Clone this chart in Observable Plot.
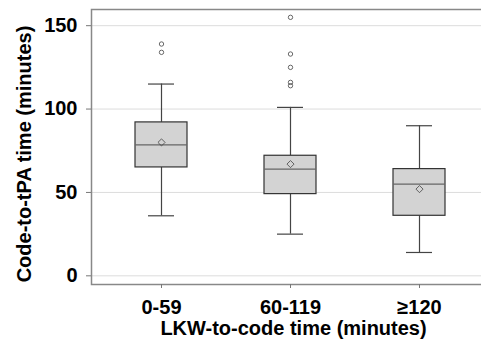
<!DOCTYPE html>
<html><head><meta charset="utf-8">
<script src="https://cdn.jsdelivr.net/npm/d3@7"></script>
<script src="https://cdn.jsdelivr.net/npm/@observablehq/plot@0.6"></script>
<style>body{margin:0;background:#fff}</style>
</head><body><div id="chart"></div>
<script>
const categories = ["0-59", "60-119", "≥120"];
const whiskerLow = [36, 25, 14];
const q1 = [65, 49, 36];
const median = [78.5, 64, 55];
const q3 = [92, 72, 64];
const whiskerHigh = [115, 101, 90];
const means = [80, 67, 52];
const outlierCats = ["0-59", "0-59", "60-119", "60-119", "60-119", "60-119", "60-119"];
const outlierValues = [139, 134, 155, 133, 125, 116, 114];
const yTicks = [0, 50, 100, 150];
const yDomain = [-5.2, 159.7];
const xTitle = "LKW-to-code time (minutes)";
const yTitle = "Code-to-tPA time (minutes)";

const boxes = categories.map((c, i) => ({cat: c, lo: whiskerLow[i], q1: q1[i], med: median[i], q3: q3[i], hi: whiskerHigh[i], mean: means[i]}));
const outliers = outlierCats.map((c, i) => ({cat: c, value: outlierValues[i]}));

const chart = Plot.plot({
  width: 481, height: 344,
  marginLeft: 91, marginRight: -8, marginTop: 9, marginBottom: 60,
  style: {fontFamily: "'Liberation Sans', Arial, sans-serif", fontSize: "20px", fontWeight: "bold", color: "#000", background: "#fff"},
  x: {domain: categories, paddingInner: 0.597, paddingOuter: 0.341, label: null},
  y: {domain: yDomain, label: null},
  marks: [
    Plot.gridY(yTicks, {stroke: "#dcdcdc", strokeOpacity: 1}),
    Plot.frame({stroke: "#888", strokeWidth: 1.5}),
    Plot.axisY(yTicks, {tickSize: 5, tickPadding: 9, stroke: "#777", label: null}),
    Plot.axisX({tickSize: 4, tickPadding: 11, stroke: "#777", label: null}),
    Plot.ruleX(boxes, {x: "cat", y1: "lo", y2: "q1", stroke: "#444", strokeWidth: 1.2}),
    Plot.ruleX(boxes, {x: "cat", y1: "q3", y2: "hi", stroke: "#444", strokeWidth: 1.2}),
    Plot.tickY(boxes, {x: "cat", y: "lo", insetLeft: 13, insetRight: 13, stroke: "#444", strokeWidth: 1.2}),
    Plot.tickY(boxes, {x: "cat", y: "hi", insetLeft: 13, insetRight: 13, stroke: "#444", strokeWidth: 1.2}),
    Plot.barY(boxes, {x: "cat", y1: "q1", y2: "q3", fill: "#d3d3d3", stroke: "#333", strokeWidth: 1.2}),
    Plot.tickY(boxes, {x: "cat", y: "med", stroke: "#666", strokeWidth: 1.2}),
    Plot.dot(boxes, {x: "cat", y: "mean", symbol: "diamond2", r: 3.2, stroke: "#444", strokeWidth: 0.8, fill: "none"}),
    Plot.dot(outliers, {x: "cat", y: "value", r: 2.2, stroke: "#444", strokeWidth: 0.8, fill: "none"}),
    Plot.text([yTitle], {frameAnchor: "left", textAnchor: "middle", lineAnchor: "middle", rotate: -90, dx: -66.5, dy: 7, fontSize: 20, fontWeight: "bold", fill: "#000"}),
    Plot.text([xTitle], {frameAnchor: "bottom", textAnchor: "middle", lineAnchor: "middle", dx: 3, dy: 44.5, fontSize: 20, fontWeight: "bold", fill: "#000"})
  ]
});
document.getElementById("chart").append(chart);
</script>
</body></html>
